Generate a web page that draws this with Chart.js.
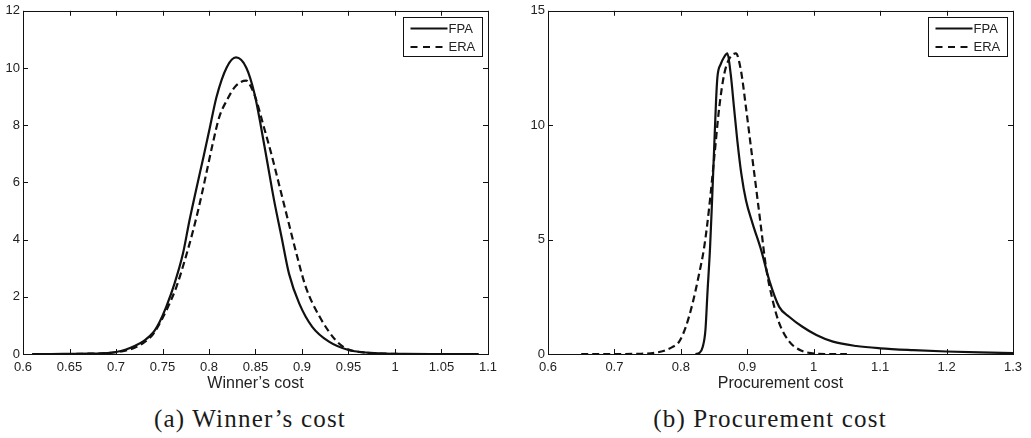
<!DOCTYPE html>
<html>
<head>
<meta charset="utf-8">
<script src="https://cdn.jsdelivr.net/npm/chart.js@4.4.1/dist/chart.umd.min.js"></script>
<style>
  html, body { margin: 0; padding: 0; background: #fff; }
  #wrap { position: relative; width: 1031px; height: 438px; overflow: hidden; }
  canvas { position: absolute; top: 0; }
  .caption {
    position: absolute; top: 406px;
    font-family: "Liberation Serif", serif; font-size: 25px; line-height: 25px;
    letter-spacing: 1.2px; color: #1a1a1a; white-space: nowrap;
    transform: translateX(-50%);
  }
</style>
</head>
<body>
<div id="wrap">
  <canvas id="winner" width="515" height="400" style="left:0"></canvas>
  <canvas id="procurement" width="516" height="400" style="left:515px"></canvas>
  <div class="caption" style="left:250px">(a) Winner’s cost</div>
  <div class="caption" style="left:770px">(b) Procurement cost</div>
</div>
<script>
// (a) winner's cost densities
const winnerFpaX = [0.61, 0.63, 0.65, 0.67, 0.69, 0.70, 0.71, 0.72, 0.73, 0.74, 0.747, 0.754, 0.763, 0.772, 0.779, 0.786, 0.794, 0.801, 0.808, 0.819, 0.829, 0.840, 0.849, 0.856, 0.863, 0.870, 0.878, 0.886, 0.897, 0.911, 0.929, 0.950, 0.970, 0.990, 1.01, 1.04, 1.07, 1.09];
const winnerFpaY = [0, 0, 0.005, 0.01, 0.03, 0.07, 0.15, 0.28, 0.46, 0.75, 1.13, 1.65, 2.47, 3.51, 4.67, 5.72, 6.88, 7.93, 8.98, 10.02, 10.37, 10.02, 9.09, 7.93, 6.65, 5.37, 4.09, 2.81, 1.77, 0.95, 0.43, 0.14, 0.05, 0.015, 0.005, 0, 0, 0];
const winnerEraX = [0.61, 0.63, 0.65, 0.67, 0.69, 0.70, 0.71, 0.72, 0.73, 0.74, 0.749, 0.756, 0.765, 0.774, 0.783, 0.790, 0.797, 0.804, 0.811, 0.819, 0.829, 0.840, 0.845, 0.851, 0.858, 0.867, 0.876, 0.885, 0.894, 0.904, 0.919, 0.936, 0.947, 0.96, 0.975, 0.99, 1.01, 1.04, 1.09];
const winnerEraY = [0, 0, 0, 0.01, 0.03, 0.06, 0.12, 0.22, 0.4, 0.7, 1.19, 1.65, 2.35, 3.28, 4.33, 5.26, 6.30, 7.35, 8.28, 8.86, 9.38, 9.56, 9.35, 8.86, 8.05, 7.0, 5.84, 4.67, 3.51, 2.35, 1.30, 0.49, 0.2, 0.08, 0.03, 0.01, 0, 0, 0];
const winnerXTicks = [0.6, 0.65, 0.7, 0.75, 0.8, 0.85, 0.9, 0.95, 1, 1.05, 1.1];
const winnerYTicks = [0, 2, 4, 6, 8, 10, 12];

// (b) procurement cost densities
const procFpaX = [0.822, 0.828, 0.833, 0.837, 0.840, 0.844, 0.847, 0.850, 0.853, 0.855, 0.860, 0.865, 0.870, 0.875, 0.880, 0.885, 0.891, 0.898, 0.908, 0.921, 0.933, 0.948, 0.963, 0.983, 1.004, 1.029, 1.064, 1.10, 1.15, 1.20, 1.25, 1.30];
const procFpaY = [0, 0.05, 0.32, 1.05, 2.65, 4.68, 6.72, 8.9, 11.08, 12.09, 12.67, 12.97, 13.14, 12.24, 10.78, 9.33, 7.88, 6.72, 5.70, 4.53, 3.23, 2.06, 1.63, 1.19, 0.83, 0.54, 0.35, 0.25, 0.17, 0.11, 0.07, 0.04];
const procEraX = [0.65, 0.70, 0.74, 0.76, 0.775, 0.787, 0.7975, 0.8075, 0.8176, 0.8276, 0.8352, 0.8427, 0.8503, 0.8578, 0.8653, 0.8729, 0.8829, 0.8905, 0.898, 0.9055, 0.9131, 0.9206, 0.9281, 0.9382, 0.9482, 0.9633, 0.9809, 0.9985, 1.02, 1.05];
const procEraY = [0, 0, 0.01, 0.05, 0.14, 0.3, 0.54, 1.19, 2.21, 3.52, 4.68, 6.42, 8.6, 10.78, 12.24, 12.9, 13.14, 12.38, 10.78, 9.04, 7.30, 5.55, 3.81, 2.35, 1.34, 0.54, 0.15, 0.03, 0, 0];
const procXTicks = [0.6, 0.7, 0.8, 0.9, 1, 1.1, 1.2, 1.3];
const procYTicks = [0, 5, 10, 15];

const seriesLabels = ['FPA', 'ERA'];

const INK = '#111';
const TEXT = '#222';
const SANS = '"Liberation Sans", Arial, sans-serif';
const ERA_DASH = [7, 4];

const pairs = (xs, ys) => xs.map((x, i) => ({ x: x, y: ys[i] }));

// Box frame, inward ticks on all four sides and the boxed legend
const framePlugin = {
    id: 'frame',
    afterDraw(chart) {
        const { ctx, chartArea: a, scales: { x, y } } = chart;
        const tick = 5;
        ctx.save();
        ctx.strokeStyle = INK;
        ctx.lineWidth = 1;
        ctx.strokeRect(Math.round(a.left) + 0.5, Math.round(a.top) + 0.5,
            Math.round(a.right - a.left), Math.round(a.bottom - a.top));

        ctx.beginPath();
        x.ticks.forEach(t => {
            const px = Math.round(x.getPixelForValue(t.value)) + 0.5;
            ctx.moveTo(px, a.bottom); ctx.lineTo(px, a.bottom - tick);
            ctx.moveTo(px, a.top); ctx.lineTo(px, a.top + tick);
        });
        y.ticks.forEach(t => {
            const py = Math.round(y.getPixelForValue(t.value)) + 0.5;
            ctx.moveTo(a.left, py); ctx.lineTo(a.left + tick, py);
            ctx.moveTo(a.right, py); ctx.lineTo(a.right - tick, py);
        });
        ctx.stroke();

        // legend
        const w = 79, h = 39;
        const bx = Math.round(a.right - 6 - w) + 0.5;
        const by = Math.round(a.top + 6) + 0.5;
        ctx.fillStyle = '#fff';
        ctx.fillRect(bx, by, w, h);
        ctx.strokeRect(bx, by, w, h);
        ctx.font = '13px ' + SANS;
        ctx.textBaseline = 'middle';
        ctx.textAlign = 'left';
        seriesLabels.forEach((label, i) => {
            const ly = by + 11 + i * 18.5;
            ctx.lineWidth = 2.2;
            ctx.setLineDash(i === 0 ? [] : [7, 5.5]);
            ctx.beginPath();
            ctx.moveTo(bx + 7, ly);
            ctx.lineTo(bx + 44, ly);
            ctx.stroke();
            ctx.setLineDash([]);
            ctx.fillStyle = TEXT;
            ctx.fillText(label, bx + 45, ly + 0.5);
        });
        ctx.restore();
    }
};

function buildPanel(canvasId, cfg) {
    const tickFont = { family: SANS, size: 13 };
    return new Chart(document.getElementById(canvasId), {
        type: 'scatter',
        data: {
            datasets: [
                {
                    label: seriesLabels[0],
                    data: pairs(cfg.fpaX, cfg.fpaY),
                    showLine: true,
                    borderColor: INK,
                    borderWidth: 2.2,
                    pointRadius: 0,
                    cubicInterpolationMode: 'monotone',
                },
                {
                    label: seriesLabels[1],
                    data: pairs(cfg.eraX, cfg.eraY),
                    showLine: true,
                    borderColor: INK,
                    borderWidth: 2.2,
                    borderDash: ERA_DASH,
                    pointRadius: 0,
                    cubicInterpolationMode: 'monotone',
                },
            ],
        },
        options: {
            responsive: false,
            animation: false,
            events: [],
            layout: { padding: { top: 10, right: cfg.padRight, left: 0, bottom: 0 } },
            plugins: { legend: { display: false }, tooltip: { enabled: false } },
            scales: {
                x: {
                    type: 'linear',
                    min: cfg.xTicks[0],
                    max: cfg.xTicks[cfg.xTicks.length - 1],
                    afterBuildTicks: s => { s.ticks = cfg.xTicks.map(v => ({ value: v })); },
                    afterFit: s => { s.height = 46; },
                    grid: { display: false, drawTicks: false },
                    border: { display: false },
                    ticks: { padding: 6, font: tickFont, color: TEXT, autoSkip: false, maxRotation: 0, callback: v => String(v) },
                    title: { display: true, text: cfg.xTitle, font: { family: SANS, size: 16 }, color: TEXT, padding: { top: 0, bottom: 7 } },
                },
                y: {
                    min: cfg.yTicks[0],
                    max: cfg.yTicks[cfg.yTicks.length - 1],
                    afterBuildTicks: s => { s.ticks = cfg.yTicks.map(v => ({ value: v })); },
                    afterFit: s => { s.width = cfg.yAxisWidth; },
                    grid: { display: false, drawTicks: false },
                    border: { display: false },
                    ticks: { padding: 3, font: tickFont, color: TEXT, callback: v => String(v) },
                },
            },
        },
        plugins: [framePlugin],
    });
}

buildPanel('winner', {
    fpaX: winnerFpaX, fpaY: winnerFpaY, eraX: winnerEraX, eraY: winnerEraY,
    xTicks: winnerXTicks, yTicks: winnerYTicks,
    xTitle: 'Winner’s cost', yAxisWidth: 23, padRight: 27,
});

buildPanel('procurement', {
    fpaX: procFpaX, fpaY: procFpaY, eraX: procEraX, eraY: procEraY,
    xTicks: procXTicks, yTicks: procYTicks,
    xTitle: 'Procurement cost', yAxisWidth: 33, padRight: 18,
});
</script>
</body>
</html>
